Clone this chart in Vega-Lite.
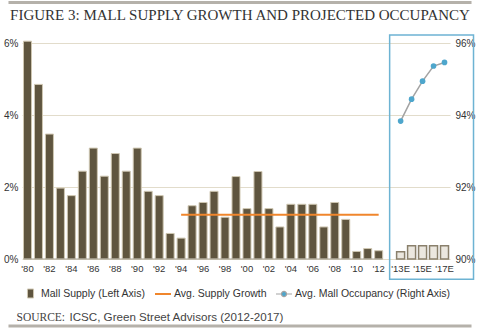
{
  "$schema": "https://vega.github.io/schema/vega-lite/v6.json",
  "width": 428,
  "height": 216,
  "autosize": "none",
  "padding": {"left": 22, "top": 43, "right": 30, "bottom": 71},
  "background": "white",
  "config": {"view": {"stroke": null}, "font": "Liberation Sans", "legend": {"labelFontSize": 10.5, "labelColor": "#333333", "labelLimit": 0, "labelOffset": 2, "symbolSize": 256, "offset": 12, "orient": "bottom", "title": null}},
  "title": {
    "text": "FIGURE 3: MALL SUPPLY GROWTH AND PROJECTED OCCUPANCY",
    "font": "Liberation Serif",
    "fontSize": 15,
    "fontWeight": "normal",
    "color": "#333333",
    "anchor": "middle",
    "frame": "group",
    "offset": -22,
    "dx": 4
  },
  "datasets": {
    "supply": [
      {"yr": "'80", "v": 6.05}, {"yr": "'81", "v": 4.85}, {"yr": "'82", "v": 3.47},
      {"yr": "'83", "v": 1.97}, {"yr": "'84", "v": 1.76}, {"yr": "'85", "v": 2.44},
      {"yr": "'86", "v": 3.08}, {"yr": "'87", "v": 2.30}, {"yr": "'88", "v": 2.93},
      {"yr": "'89", "v": 2.44}, {"yr": "'90", "v": 3.08}, {"yr": "'91", "v": 1.88},
      {"yr": "'92", "v": 1.76}, {"yr": "'93", "v": 0.71}, {"yr": "'94", "v": 0.58},
      {"yr": "'95", "v": 1.48}, {"yr": "'96", "v": 1.57}, {"yr": "'97", "v": 1.88},
      {"yr": "'98", "v": 1.16}, {"yr": "'99", "v": 2.29}, {"yr": "'00", "v": 1.40},
      {"yr": "'01", "v": 2.43}, {"yr": "'02", "v": 1.40}, {"yr": "'03", "v": 0.89},
      {"yr": "'04", "v": 1.52}, {"yr": "'05", "v": 1.52}, {"yr": "'06", "v": 1.52},
      {"yr": "'07", "v": 0.89}, {"yr": "'08", "v": 1.57}, {"yr": "'09", "v": 1.10},
      {"yr": "'10", "v": 0.21}, {"yr": "'11", "v": 0.29}, {"yr": "'12", "v": 0.23}
    ],
    "proj": [
      {"yr": "'13E", "v": 0.2}, {"yr": "'14E", "v": 0.37}, {"yr": "'15E", "v": 0.37},
      {"yr": "'16E", "v": 0.37}, {"yr": "'17E", "v": 0.37}
    ],
    "avg": [
      {"yr": "'94", "v": 1.23}, {"yr": "'12", "v": 1.23}
    ],
    "occ": [
      {"yr": "'13E", "occ": 93.83}, {"yr": "'14E", "occ": 94.44}, {"yr": "'15E", "occ": 94.94},
      {"yr": "'16E", "occ": 95.36}, {"yr": "'17E", "occ": 95.46}
    ],
    "one": [{}]
  },
  "layer": [
    {
      "layer": [
        {
          "data": {"name": "supply"},
          "mark": {"type": "bar", "stroke": "#cfc7b2", "strokeWidth": 1},
          "encoding": {
            "x": {
              "field": "yr",
              "type": "ordinal",
              "sort": null,
              "scale": {
                "domain": ["'80","'81","'82","'83","'84","'85","'86","'87","'88","'89","'90","'91","'92","'93","'94","'95","'96","'97","'98","'99","'00","'01","'02","'03","'04","'05","'06","'07","'08","'09","'10","'11","'12"," ","'13E","'14E","'15E","'16E","'17E"],
                "paddingInner": 0.27,
                "paddingOuter": 0.135
              },
              "axis": {
                "title": null,
                "values": ["'80","'82","'84","'86","'88","'90","'92","'94","'96","'98","'00","'02","'04","'06","'08","'10","'12","'13E","'15E","'17E"],
                "labelAngle": 0,
                "labelFontSize": 9.5,
                "labelColor": "#333333",
                "labelPadding": 4,
                "ticks": false,
                "domain": false
              }
            },
            "y": {
              "field": "v",
              "type": "quantitative",
              "scale": {"domain": [0, 6], "nice": false},
              "axis": {
                "title": null,
                "values": [0, 2, 4, 6],
                "labelExpr": "datum.value + '%'",
                "grid": true,
                "gridColor": "#e2dccb",
                "domain": false,
                "ticks": false,
                "labelPadding": 4,
                "labelFontSize": 10,
                "labelColor": "#333333"
              }
            },
            "color": {
              "datum": "Mall Supply (Left Axis)",
              "type": "nominal",
              "scale": {"range": ["#5f553f"]},
              "legend": {
                "symbolType": "M-0.38,-0.56H0.38V0.56H-0.38Z",
                "symbolSize": 256,
                "symbolStrokeColor": "#cfc7b2",
                "symbolStrokeWidth": 1
              }
            }
          }
        },
        {
          "data": {"name": "proj"},
          "mark": {"type": "bar", "fill": "#ebe7df", "stroke": "#8a806c", "strokeWidth": 1.5},
          "encoding": {
            "x": {"field": "yr", "type": "ordinal"},
            "y": {"field": "v", "type": "quantitative", "scale": {"domain": [0, 6], "nice": false}}
          }
        },
        {
          "data": {"name": "avg"},
          "mark": {"type": "line", "strokeWidth": 2},
          "encoding": {
            "x": {"field": "yr", "type": "ordinal"},
            "y": {"field": "v", "type": "quantitative", "scale": {"domain": [0, 6], "nice": false}},
            "stroke": {
              "datum": "Avg. Supply Growth",
              "type": "nominal",
              "scale": {"range": ["#f0862c"]},
              "legend": {"symbolType": "stroke", "symbolSize": 256, "symbolStrokeWidth": 2}
            }
          }
        },
        {
          "data": {"name": "one"},
          "mark": {"type": "rect", "fill": null, "stroke": "#6db3d3", "strokeWidth": 1.5, "x2Offset": 25},
          "encoding": {
            "x": {"datum": " ", "type": "ordinal", "bandPosition": 0.5},
            "x2": {"datum": "'17E", "bandPosition": 1},
            "y": {"datum": 6.22, "type": "quantitative"},
            "y2": {"datum": -0.56}
          }
        },
        {
          "data": {"name": "one"},
          "mark": {"type": "rule", "strokeWidth": 3, "color": "#b5b1aa", "xOffset": -15, "x2Offset": 23},
          "encoding": {
            "x": {"datum": "'80", "type": "ordinal", "bandPosition": 0},
            "x2": {"datum": "'17E", "bandPosition": 1},
            "y": {"datum": 7.125, "type": "quantitative"}
          }
        },
        {
          "data": {"name": "one"},
          "mark": {"type": "rule", "strokeWidth": 3, "color": "#b5b1aa", "xOffset": -15, "x2Offset": 23},
          "encoding": {
            "x": {"datum": "'80", "type": "ordinal", "bandPosition": 0},
            "x2": {"datum": "'17E", "bandPosition": 1},
            "y": {"datum": -1.86, "type": "quantitative"}
          }
        },
        {
          "data": {"name": "one"},
          "mark": {"type": "rule", "strokeWidth": 1, "color": "#a59f92"},
          "encoding": {
            "x": {"datum": "'80", "type": "ordinal", "bandPosition": 0},
            "x2": {"datum": "'12", "bandPosition": 1},
            "y": {"datum": 0, "type": "quantitative"}
          }
        },
        {
          "data": {"name": "one"},
          "mark": {"type": "text", "font": "Liberation Serif", "fontSize": 11.5, "align": "left", "baseline": "middle", "color": "#444444", "dx": -7},
          "encoding": {
            "x": {"datum": "'80", "type": "ordinal", "bandPosition": 0},
            "y": {"datum": -1.64, "type": "quantitative"},
            "text": {"value": "SOURCE:"}
          }
        },
        {
          "data": {"name": "one"},
          "mark": {"type": "text", "font": "Liberation Sans", "fontSize": 11.6, "align": "left", "baseline": "middle", "color": "#444444", "dx": 46},
          "encoding": {
            "x": {"datum": "'80", "type": "ordinal", "bandPosition": 0},
            "y": {"datum": -1.64, "type": "quantitative"},
            "text": {"value": "ICSC, Green Street Advisors (2012-2017)"}
          }
        }
      ]
    },
    {
      "data": {"name": "occ"},
      "mark": {"type": "line", "color": "#a3a3a3", "strokeWidth": 1.5, "point": {"filled": true, "color": "#4ea6cc", "size": 32, "opacity": 1}},
      "encoding": {
        "x": {"field": "yr", "type": "ordinal"},
        "y": {
          "field": "occ",
          "type": "quantitative",
          "scale": {"domain": [90, 96], "nice": false},
          "axis": {
            "orient": "right",
            "title": null,
            "values": [90, 92, 94, 96],
            "labelExpr": "datum.value + '%'",
            "grid": false,
            "domain": false,
            "ticks": false,
            "labelPadding": 5,
            "labelFontSize": 10,
            "labelColor": "#333333"
          }
        },
        "opacity": {
          "datum": "Avg. Mall Occupancy (Right Axis)",
          "type": "nominal",
          "scale": {"range": [1]},
          "legend": {
            "symbolType": "M-1,0H-0.32M0.32,0H1M-0.32,0A0.32,0.32,0,1,1,0.32,0A0.32,0.32,0,1,1,-0.32,0Z",
            "symbolSize": 256,
            "symbolFillColor": "#4ea6cc",
            "symbolStrokeColor": "#a3a3a3",
            "symbolStrokeWidth": 1.2,
            "encode": {"symbols": {"update": {"stroke": {"value": "#a3a3a3"}, "fill": {"value": "#4ea6cc"}}}}
          }
        }
      }
    }
  ],
  "resolve": {"scale": {"y": "independent"}}
}
